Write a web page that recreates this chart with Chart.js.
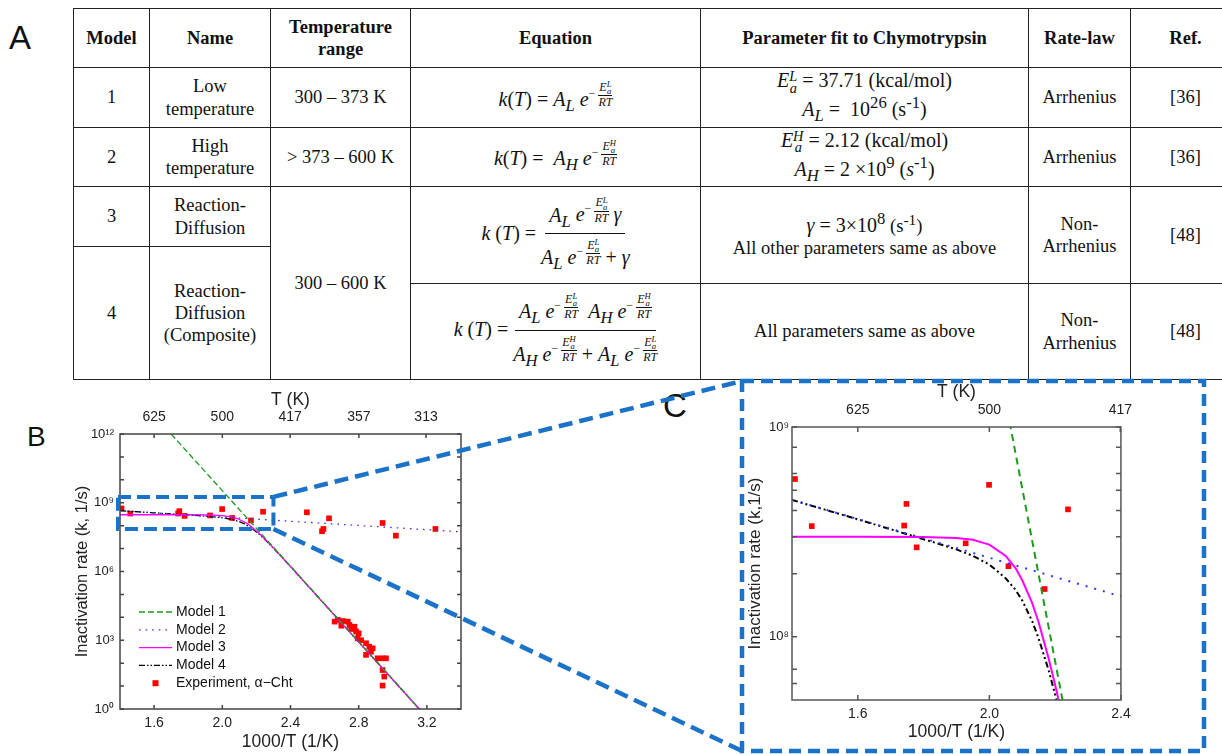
<!DOCTYPE html>
<html>
<head>
<meta charset="utf-8">
<script src="https://cdn.jsdelivr.net/npm/chart.js@4.4.1/dist/chart.umd.min.js"></script>
<style>
  body { margin: 0; width: 1222px; height: 754px; overflow: hidden; background: #fff; position: relative; color: #111; }
  .tab { position: absolute; left: 73px; top: 8px; border-collapse: collapse; table-layout: fixed; width: 1167px;
         font-family: 'Liberation Serif', 'DejaVu Serif', serif; }
  .tab td, .tab th { border: 1.5px solid #222; text-align: center; vertical-align: middle; font-size: 18.5px; line-height: 1.2;
         padding: 0; font-family: 'Liberation Serif', 'DejaVu Serif', serif; overflow: hidden; }
  .m { font-size: 20px; white-space: nowrap; line-height: 1.05; }
  .ex { display: inline-block; font-size: 12px; vertical-align: 9px; line-height: 1; }
  .fr { display: inline-flex; flex-direction: column; align-items: center; vertical-align: middle; line-height: 1; }
  .fr > span:first-child { border-bottom: 1px solid #111; padding: 0 1px; }
  .ss { display: inline-flex; flex-direction: column; font-size: 0.72em; line-height: 0.8; vertical-align: 0.42em; }
  .big { display: inline-flex; flex-direction: column; align-items: center; vertical-align: middle; line-height: 1.1; }
  .big > span:first-child { border-bottom: 1.5px solid #111; padding: 0 4px 2px; }
  .big > span:last-child { padding-top: 5px; }
  .letter { position: absolute; font-family: 'Liberation Sans', Arial, sans-serif; line-height: 1; color: #111; }
  canvas { position: absolute; }
</style>
</head>
<body>
<div class="letter" style="left:9px;top:21px;font-size:33px">A</div>
<div class="letter" style="left:27px;top:423px;font-size:28px">B</div>
<div class="letter" style="left:663px;top:389px;font-size:33px">C</div>

<table class="tab">
  <colgroup><col style="width:76px"><col style="width:121px"><col style="width:140px"><col style="width:290px"><col style="width:328px"><col style="width:102px"><col style="width:110px"></colgroup>
  <tr style="height:59px"><th>Model</th><th>Name</th><th>Temperature<br>range</th><th>Equation</th><th>Parameter fit to Chymotrypsin</th><th>Rate-law</th><th>Ref.</th></tr>
  <tr style="height:60px"><td>1</td><td>Low<br>temperature</td><td>300 – 373 K</td>
    <td><span class="m"><i>k</i>(<i>T</i>) = <i>A<sub>L</sub></i> <i>e</i><span class="ex">− <span class="fr"><span><i>E</i><span class="ss"><i>L</i><i>a</i></span></span><span><i>RT</i></span></span></span></span></td>
    <td><span class="m"><i>E</i><span class="ss"><i>L</i><i>a</i></span> = 37.71 (kcal/mol)<br><i>A<sub>L</sub></i> = &nbsp;10<sup>26</sup> (s<sup>-1</sup>)</span></td>
    <td>Arrhenius</td><td>[36]</td></tr>
  <tr style="height:59px"><td>2</td><td>High<br>temperature</td><td>&gt; 373 – 600 K</td>
    <td><span class="m"><i>k</i>(<i>T</i>) = &nbsp;<i>A<sub>H</sub></i> <i>e</i><span class="ex">− <span class="fr"><span><i>E</i><span class="ss"><i>H</i><i>a</i></span></span><span><i>RT</i></span></span></span></span></td>
    <td><span class="m"><i>E</i><span class="ss"><i>H</i><i>a</i></span> = 2.12 (kcal/mol)<br><i>A<sub>H</sub></i> = 2 ×10<sup>9</sup> (<i>s</i><sup>-1</sup>)</span></td>
    <td>Arrhenius</td><td>[36]</td></tr>
  <tr style="height:60px"><td>3</td><td>Reaction-<br>Diffusion</td><td rowspan="3">300 – 600 K</td>
    <td rowspan="2"><span class="m"><i>k</i> (<i>T</i>) = <span class="big"><span><i>A<sub>L</sub></i> <i>e</i><span class="ex">− <span class="fr"><span><i>E</i><span class="ss"><i>L</i><i>a</i></span></span><span><i>RT</i></span></span></span> <i>γ</i></span><span><i>A<sub>L</sub></i> <i>e</i><span class="ex">− <span class="fr"><span><i>E</i><span class="ss"><i>L</i><i>a</i></span></span><span><i>RT</i></span></span></span> + <i>γ</i></span></span></span></td>
    <td rowspan="2"><span class="m"><i>γ</i> = 3×10<sup>8</sup></span> (s<sup>-1</sup>)<br>All other parameters same as above</td>
    <td rowspan="2">Non-<br>Arrhenius</td><td rowspan="2">[48]</td></tr>
  <tr style="height:37px"><td rowspan="2">4</td><td rowspan="2">Reaction-<br>Diffusion<br>(Composite)</td></tr>
  <tr style="height:96px">
    <td><span class="m"><i>k</i> (<i>T</i>) = <span class="big"><span><i>A<sub>L</sub></i> <i>e</i><span class="ex">− <span class="fr"><span><i>E</i><span class="ss"><i>L</i><i>a</i></span></span><span><i>RT</i></span></span></span> &nbsp;<i>A<sub>H</sub></i> <i>e</i><span class="ex">− <span class="fr"><span><i>E</i><span class="ss"><i>H</i><i>a</i></span></span><span><i>RT</i></span></span></span></span><span><i>A<sub>H</sub></i> <i>e</i><span class="ex">− <span class="fr"><span><i>E</i><span class="ss"><i>H</i><i>a</i></span></span><span><i>RT</i></span></span></span> + <i>A<sub>L</sub></i> <i>e</i><span class="ex">− <span class="fr"><span><i>E</i><span class="ss"><i>L</i><i>a</i></span></span><span><i>RT</i></span></span></span></span></span></span></td>
    <td>All parameters same as above</td><td>Non-<br>Arrhenius</td><td>[48]</td></tr>
</table>

<canvas id="chartB" width="480" height="374" style="left:0px;top:380px"></canvas>
<canvas id="chartC" width="395" height="370" style="left:745px;top:380px"></canvas>
<canvas id="overlay" width="1222" height="754" style="left:0;top:0;pointer-events:none"></canvas>

<script>
// x = 1000/T (1/K), k = inactivation rate (1/s)
var model1X = [1.70, 3.16];
var model1K = [1e12, 0.95];
var model2X = [1.40, 3.40];
var model2K = [4.5e8, 5.4e7];
var curveX  = [1.40, 1.60, 1.80, 1.90, 1.95, 2.00, 2.05, 2.08, 2.10, 2.13, 2.15, 2.18, 2.20, 2.22, 2.25, 2.30, 2.40, 2.60, 2.80, 3.00, 3.16];
var model3K = [3.0e8, 3.0e8, 2.99e8, 2.96e8, 2.90e8, 2.75e8, 2.43e8, 2.12e8, 1.86e8, 1.45e8, 1.17e8, 7.9e7, 5.9e7, 4.3e7, 2.6e7, 1.07e7, 1.65e6, 3.7e4, 830, 19, 0.9];
var model4K = [4.49e8, 3.63e8, 2.92e8, 2.61e8, 2.43e8, 2.21e8, 1.90e8, 1.67e8, 1.49e8, 1.19e8, 9.8e7, 6.95e7, 5.3e7, 4.0e7, 2.47e7, 1.03e7, 1.64e6, 3.7e4, 830, 19, 0.9];
var expX = [1.409, 1.460, 1.748, 1.741, 1.779, 1.928, 1.999, 2.058, 2.168, 2.239, 2.496, 2.626, 2.593, 2.585, 2.940, 3.018, 3.250,
            2.659, 2.678, 2.707, 2.698, 2.736, 2.746, 2.756, 2.775, 2.785, 2.800, 2.794, 2.814, 2.843, 2.862, 2.882, 2.843, 2.872, 2.911, 2.940, 2.960, 2.940, 2.950, 2.940];
var expK = [5.65e8, 3.37e8, 4.30e8, 3.39e8, 2.67e8, 2.79e8, 5.3e8, 2.17e8, 1.69e8, 4.05e8, 3.83e8, 2.09e8, 7.2e7, 5.7e7, 1.31e8, 3.66e7, 7.17e7,
            6500, 7700, 6900, 4300, 6500, 4600, 3100, 3900, 2400, 2000, 1200, 1000, 740, 525, 445, 230, 315, 163, 163, 163, 50, 26, 10.5];

var seriesNames = ['Model 1', 'Model 2', 'Model 3', 'Model 4', 'Experiment, \u03b1\u2212Cht'];
var xTicksB = [1.6, 2.0, 2.4, 2.8, 3.2];
var xTicksC = [1.6, 2.0, 2.4];
var tempTicksB = [625, 500, 417, 357, 313];
var tempTicksC = [625, 500, 417];
var yPowersB = [0, 1, 2, 3, 4, 5, 6, 7, 8, 9, 10, 11, 12];
var yLabelPowersB = [0, 3, 6, 9, 12];
var yLabelsC = [1e8, 1e9];
var yMinorC = [6e7, 7e7, 2e8, 3e8, 4e8, 5e8, 6e8, 8e8];
// region of panel B that is blown up in panel C
var zoomBoxX = [1.4, 2.3];
var zoomBoxK = [7.2e7, 1.8e9];

var sansFont = "'Liberation Sans', Arial, sans-serif";
Chart.defaults.font.family = sansFont;
Chart.defaults.color = '#222';

function pts(xs, ys) {
    return xs.map(function (x, i) { return { x: x, y: ys[i] }; });
}

var superDigits = { '0': '\u2070', '1': '\u00b9', '2': '\u00b2', '3': '\u00b3', '4': '\u2074', '5': '\u2075', '6': '\u2076', '7': '\u2077', '8': '\u2078', '9': '\u2079' };
function pow10Label(p) {
    return '10' + String(p).split('').map(function (d) { return superDigits[d]; }).join('');
}

function makeDatasets(big) {
    var w = big ? 2 : 1.3;
    return [
        { label: seriesNames[0], data: pts(model1X, model1K), showLine: true, pointRadius: 0, borderColor: '#1e9a1e', borderWidth: w, borderDash: big ? [7, 5] : [6, 3] },
        { label: seriesNames[1], data: pts(model2X, model2K), showLine: true, pointRadius: 0, borderColor: '#3535ff', borderWidth: w, borderDash: big ? [2, 7] : [1.6, 5] },
        { label: seriesNames[2], data: pts(curveX, model3K), showLine: true, pointRadius: 0, borderColor: '#ff00ff', borderWidth: w },
        { label: seriesNames[3], data: pts(curveX, model4K), showLine: true, pointRadius: 0, borderColor: '#000000', borderWidth: w, borderDash: big ? [6, 3, 2, 3, 2, 3] : [6, 2, 1.5, 2, 1.5, 2] },
        { label: seriesNames[4], data: pts(expX, expK), showLine: false, pointStyle: 'rect', pointRadius: 4, pointBackgroundColor: '#ff0000', pointBorderWidth: 0, borderColor: '#ff0000' }
    ];
}

// closed frame with inward tick marks
var frameTicks = {
    id: 'frameTicks',
    afterDatasetsDraw: function (chart, args, opts) {
        var ctx = chart.ctx, a = chart.chartArea, s = chart.scales;
        ctx.save();
        ctx.strokeStyle = opts.color;
        ctx.lineWidth = opts.width;
        ctx.beginPath();
        s.x.ticks.forEach(function (t) {
            var px = s.x.getPixelForValue(t.value);
            ctx.moveTo(px, a.bottom); ctx.lineTo(px, a.bottom - opts.len);
        });
        s.x2.ticks.forEach(function (t) {
            var px = s.x2.getPixelForValue(t.value);
            ctx.moveTo(px, a.top); ctx.lineTo(px, a.top + opts.len);
        });
        opts.yTicks.forEach(function (v) {
            var py = s.y.getPixelForValue(v);
            ctx.moveTo(a.left, py); ctx.lineTo(a.left + opts.len, py);
            ctx.moveTo(a.right, py); ctx.lineTo(a.right - opts.len, py);
        });
        ctx.stroke();
        ctx.strokeRect(a.left, a.top, a.right - a.left, a.bottom - a.top);
        ctx.restore();
    }
};

// legend drawn inside the plot area of panel B
var insideLegend = {
    id: 'insideLegend',
    afterDraw: function (chart, args, opts) {
        if (!opts.show) return;
        var ctx = chart.ctx, a = chart.chartArea;
        ctx.save();
        ctx.font = '14px ' + sansFont;
        ctx.textBaseline = 'middle';
        chart.data.datasets.forEach(function (ds, i) {
            var y = a.bottom - 97 + i * 17.8;
            var x0 = a.left + 19, x1 = a.left + 52;
            if (ds.showLine) {
                ctx.strokeStyle = ds.borderColor;
                ctx.lineWidth = ds.borderWidth;
                ctx.setLineDash(ds.borderDash || []);
                ctx.beginPath(); ctx.moveTo(x0, y); ctx.lineTo(x1, y); ctx.stroke();
                ctx.setLineDash([]);
            } else {
                ctx.fillStyle = ds.pointBackgroundColor;
                ctx.fillRect((x0 + x1) / 2 - 3, y - 3, 6, 6);
            }
            ctx.fillStyle = '#111';
            ctx.fillText(ds.label, a.left + 56, y);
        });
        ctx.restore();
    }
};

function makeChart(id, cfg) {
    return new Chart(document.getElementById(id), {
        type: 'scatter',
        data: { datasets: makeDatasets(cfg.big) },
        plugins: [frameTicks, insideLegend],
        options: {
            responsive: false,
            animation: false,
            devicePixelRatio: 1,
            layout: { padding: { left: 0, right: cfg.padRight, top: 0, bottom: 0 } },
            plugins: {
                legend: { display: false },
                tooltip: { enabled: false },
                frameTicks: { yTicks: cfg.yTickMarks, len: cfg.tickLen, color: cfg.frameColor, width: 1.5 },
                insideLegend: { show: !cfg.big }
            },
            scales: {
                x: {
                    type: 'linear', position: 'bottom', min: cfg.xMin, max: cfg.xMax,
                    grid: { display: false, drawTicks: false }, border: { display: false },
                    afterBuildTicks: function (s) { s.ticks = cfg.xTicks.map(function (v) { return { value: v }; }); },
                    afterFit: function (s) { s.height = cfg.bottomH; },
                    ticks: { autoSkip: false, maxRotation: 0, padding: 6, font: { size: 14 }, callback: function (v) { return v.toFixed(1); } },
                    title: { display: true, text: '1000/T (1/K)', font: { size: 17.5 }, padding: { top: 0, bottom: cfg.xTitlePad } }
                },
                x2: {
                    type: 'linear', position: 'top', min: cfg.xMin, max: cfg.xMax,
                    grid: { display: false, drawTicks: false }, border: { display: false },
                    afterBuildTicks: function (s) { s.ticks = cfg.tempTicks.map(function (t) { return { value: 1000 / t }; }); },
                    afterFit: function (s) { s.height = cfg.topH; },
                    ticks: { autoSkip: false, maxRotation: 0, padding: 8, font: { size: 14 }, callback: function (v, i) { return String(cfg.tempTicks[i]); } },
                    title: { display: true, text: 'T (K)', font: { size: 17.5 }, padding: { top: cfg.tTitlePad, bottom: 0 } }
                },
                y: {
                    type: 'logarithmic', position: 'left', min: cfg.yMin, max: cfg.yMax,
                    grid: { display: false, drawTicks: false }, border: { display: false },
                    afterBuildTicks: function (s) { s.ticks = cfg.yLabelTicks.map(function (v) { return { value: v }; }); },
                    afterFit: function (s) { s.width = cfg.leftW; },
                    ticks: { autoSkip: false, padding: cfg.yTickPad, font: { size: cfg.yTickSize }, callback: cfg.yLabel },
                    title: { display: true, text: cfg.yTitle, font: { size: cfg.yTitleSize }, padding: { top: cfg.yTitlePad, bottom: 0 } }
                }
            }
        }
    });
}

var decadesB = yPowersB.map(function (p) { return Math.pow(10, p); });

var chartB = makeChart('chartB', {
    big: false, padRight: 19, xMin: 1.4, xMax: 3.4, xTicks: xTicksB, tempTicks: tempTicksB,
    yMin: 1, yMax: 1e12, yLabelTicks: decadesB, yTickMarks: decadesB,
    yLabel: function (v) {
        var p = Math.round(Math.log10(v));
        return yLabelPowersB.indexOf(p) >= 0 ? pow10Label(p) : '';
    },
    leftW: 120, bottomH: 45, topH: 54, tickLen: 4, frameColor: '#444',
    xTitlePad: 1, tTitlePad: 10, yTickPad: 6, yTickSize: 13,
    yTitle: 'Inactivation rate (k, 1/s)', yTitleSize: 16.5, yTitlePad: 73
});

var chartC = makeChart('chartC', {
    big: true, padRight: 7, xMin: 1.4, xMax: 2.4, xTicks: xTicksC, tempTicks: tempTicksC,
    yMin: 5e7, yMax: 1e9, yLabelTicks: yLabelsC, yTickMarks: yLabelsC.concat(yMinorC),
    yLabel: function (v) { return pow10Label(Math.round(Math.log10(v))); },
    leftW: 47, bottomH: 50, topH: 47, tickLen: 5, frameColor: '#555',
    xTitlePad: 7, tTitlePad: 2, yTickPad: 3, yTickSize: 13,
    yTitle: 'Inactivation rate (k,1/s)', yTitleSize: 17, yTitlePad: 0
});

// zoom box in B, its connector lines and the dashed frame round C
(function () {
    var ctx = document.getElementById('overlay').getContext('2d');
    var cB = document.getElementById('chartB');
    var ox = cB.offsetLeft, oy = cB.offsetTop;
    var sx = chartB.scales.x, sy = chartB.scales.y;
    var left = sx.getPixelForValue(zoomBoxX[0]) + ox - 2;
    var right = sx.getPixelForValue(zoomBoxX[1]) + ox;
    var top = sy.getPixelForValue(zoomBoxK[1]) + oy;
    var bottom = sy.getPixelForValue(zoomBoxK[0]) + oy;
    var frame = { l: 742, t: 381, r: 1204, b: 751 };

    ctx.strokeStyle = '#1a73c9';
    ctx.lineWidth = 4;
    ctx.setLineDash([13, 6]);
    ctx.strokeRect(left, top, right - left, bottom - top);

    ctx.lineWidth = 4.5;
    ctx.setLineDash([14, 7]);
    ctx.beginPath();
    ctx.moveTo(right, top); ctx.lineTo(frame.l, frame.t);
    ctx.moveTo(right, bottom); ctx.lineTo(frame.l, frame.b);
    ctx.stroke();

    ctx.setLineDash([12, 7]);
    ctx.strokeRect(frame.l, frame.t, frame.r - frame.l, frame.b - frame.t);
})();
</script>
</body>
</html>
